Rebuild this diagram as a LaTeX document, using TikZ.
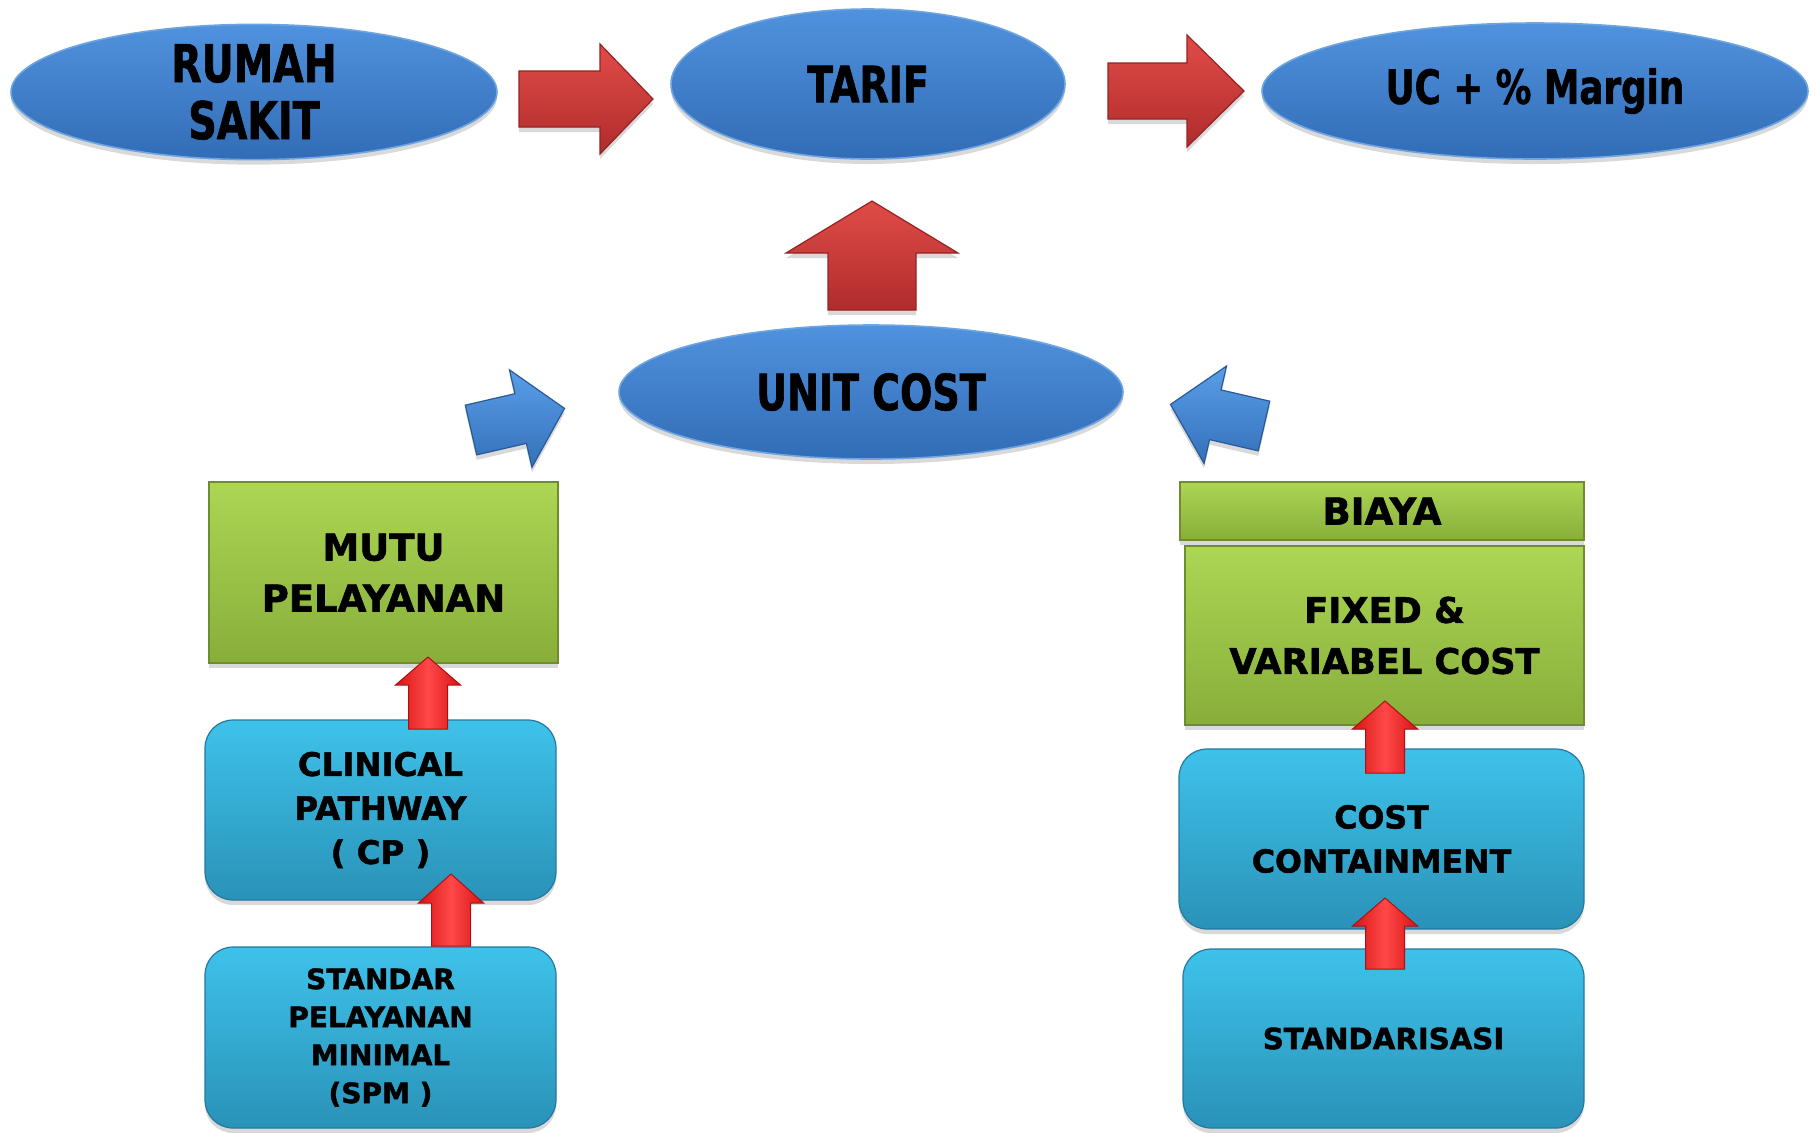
\documentclass[tikz,border=0pt]{standalone}
\usepackage{fontspec}
\setmainfont{DejaVu Sans}
\newfontfamily\ellfontbase{DejaVu Sans}[FakeStretch=0.76]
\newfontfamily\boxfontbase{DejaVu Sans}
\newcommand\ellfont{\ellfontbase\bfseries\addfontfeatures{FakeBold=1.2}}
\newcommand\boxfont{\boxfontbase\bfseries\addfontfeatures{FakeBold=1.5}}
\usetikzlibrary{shapes.geometric,shadows}
\definecolor{ellA}{RGB}{80,146,222}
\definecolor{ellB}{RGB}{50,108,182}
\definecolor{ellE}{RGB}{110,165,225}
\definecolor{redA}{RGB}{224,76,72}
\definecolor{redB}{RGB}{176,44,44}
\definecolor{redE}{RGB}{150,35,35}
\definecolor{grnA}{RGB}{172,214,84}
\definecolor{grnB}{RGB}{136,174,58}
\definecolor{grnD}{RGB}{112,140,48}
\definecolor{cyA}{RGB}{62,194,234}
\definecolor{cyB}{RGB}{42,146,184}
\definecolor{cyD}{RGB}{36,120,160}
\definecolor{brA}{RGB}{255,72,72}
\definecolor{brB}{RGB}{215,20,20}
\definecolor{bluA}{RGB}{90,158,232}
\definecolor{bluB}{RGB}{52,112,186}
\newcommand\blockarr[8]{%
  \begin{scope}[shift={#3},rotate=#4]
    \coordinate (#2) at (0,0);
    \path[#1] (0,-#7) -- ({#5-#6},-#7) -- ({#5-#6},-#8) -- (#5,0) -- ({#5-#6},#8) -- ({#5-#6},#7) -- (0,#7) -- cycle;
  \end{scope}}
\tikzset{
  shad/.style={drop shadow={opacity=0.3,shadow xshift=0pt,shadow yshift=-2.5pt}},
  ell/.style={ellipse,draw=ellE,line width=0.8pt,top color=ellA,bottom color=ellB,shad,align=center,inner sep=0pt},
  grnbox/.style={rectangle,draw=grnD,line width=0.8pt,top color=grnA,bottom color=grnB,shad,align=center,inner sep=0pt},
  cybox/.style={rectangle,rounded corners=14pt,draw=cyD,line width=0.6pt,top color=cyA,bottom color=cyB,shad,align=center,inner sep=0pt},
  bigred/.style={top color=redA,bottom color=redB,draw=redE,line width=0.6pt,shad},
  bigblue/.style={top color=bluA,bottom color=bluB,draw=bluB!80!black,line width=0.6pt,shad},
  smallred/.style={left color=brB,right color=brB,middle color=brA,draw=brB!80!black,line width=0.5pt}
}
\begin{document}
\begin{tikzpicture}[x=0.5pt,y=-0.5pt]
\useasboundingbox (0,0) rectangle (1820,1132);
% top ellipses
\node[ell,minimum width=243pt,minimum height=67pt,font={\ellfont\fontsize{26}{28.5}\selectfont}] (rs) at (254,92) {RUMAH\\SAKIT};
\node[ell,minimum width=197pt,minimum height=75pt,font={\ellfont\fontsize{25}{28}\selectfont}] (tarif) at (868,84) {TARIF};
\node[ell,minimum width=273pt,minimum height=68pt,font={\ellfont\fontsize{23.5}{28}\selectfont}] (uc) at (1535,91) {UC + \% Margin};
\node[ell,minimum width=252pt,minimum height=67pt,font={\ellfont\fontsize{25}{28}\selectfont}] (unit) at (871,392) {UNIT COST};
% green boxes
\node[grnbox,minimum width=174.5pt,minimum height=90.5pt,font={\boxfont\fontsize{18.5}{25.5}\selectfont}] (mutu) at (383.5,572.5) {MUTU\\PELAYANAN};
\node[grnbox,minimum width=202pt,minimum height=29pt,font={\boxfont\fontsize{18.5}{22}\selectfont}] (biaya) at (1382,511) {BIAYA};
\node[grnbox,minimum width=199.5pt,minimum height=89.5pt,font={\boxfont\fontsize{17.6}{25.5}\selectfont}] (fixed) at (1384.5,635.5) {FIXED \&\\VARIABEL COST};
% cyan boxes
\node[cybox,minimum width=175.5pt,minimum height=90pt,font={\boxfont\fontsize{16.2}{22}\selectfont}] (cp) at (380.5,810) {CLINICAL\\PATHWAY\\( CP )};
\node[cybox,minimum width=175.5pt,minimum height=90.5pt,font={\boxfont\fontsize{14}{19}\selectfont}] (spm) at (380.5,1037.5) {STANDAR\\PELAYANAN\\MINIMAL\\(SPM )};
\node[cybox,minimum width=202.5pt,minimum height=90pt,font={\boxfont\fontsize{15.8}{22}\selectfont}] (cc) at (1381.5,839) {COST\\CONTAINMENT};
\node[cybox,minimum width=200.5pt,minimum height=89.5pt,font={\boxfont\fontsize{14.6}{19}\selectfont}] (std) at (1383.5,1038.5) {STANDARISASI};
% big red arrows
\blockarr{bigred}{a1}{(519,99)}{0}{134}{53}{28}{55}
\blockarr{bigred}{a2}{(1108,91)}{0}{136}{57}{28}{56}
\blockarr{bigred}{a3}{(872,310)}{90}{109}{52}{44}{86}
% blue arrows
\blockarr{bigblue}{b1}{(471,430)}{13}{96}{45}{25.5}{50}
\blockarr{bigblue}{b2}{(1264,426)}{167}{96}{46}{25.5}{50}
% small red arrows
\blockarr{smallred}{s1}{(428,729)}{90}{72}{28}{19.5}{32.5}
\blockarr{smallred}{s2}{(451,946)}{90}{72}{29}{19.5}{32.5}
\blockarr{smallred}{s3}{(1385,773)}{90}{72}{28}{19.5}{32.5}
\blockarr{smallred}{s4}{(1385,969)}{90}{71}{28}{19.5}{32.5}
\end{tikzpicture}
\end{document}
